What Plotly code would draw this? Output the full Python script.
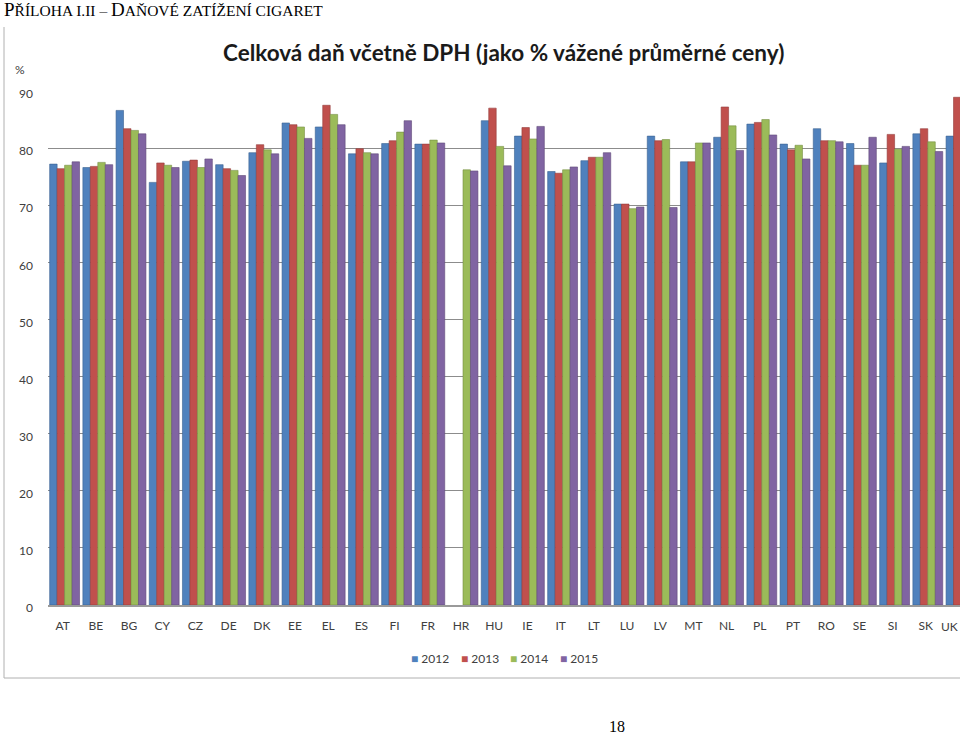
import plotly.graph_objects as go

countries = ["AT", "BE", "BG", "CY", "CZ", "DE", "DK", "EE", "EL", "ES", "FI", "FR", "HR", "HU",
             "IE", "IT", "LT", "LU", "LV", "MT", "NL", "PL", "PT", "RO", "SE", "SI", "SK", "UK"]
years = ["2012", "2013", "2014", "2015"]
v2012 = [77.2, 76.6, 86.6, 74.0, 77.7, 77.1, 79.2, 84.4, 83.7, 79.0, 80.8, 80.7, None, 84.8,
         82.1, 75.9, 77.8, 70.2, 82.1, 77.6, 81.9, 84.2, 80.7, 83.4, 80.8, 77.4, 82.5, 82.1]
v2013 = [76.4, 76.8, 83.4, 77.4, 77.9, 76.4, 80.6, 84.1, 87.5, 79.9, 81.3, 80.7, None, 87.0,
         83.6, 75.6, 78.4, 70.2, 81.3, 77.6, 87.2, 84.5, 79.7, 81.3, 77.0, 82.4, 83.4, 88.9]
v2014 = [77.0, 77.5, 83.1, 77.0, 76.6, 76.1, 79.7, 83.7, 85.9, 79.2, 82.8, 81.4, 76.2, 80.3,
         81.6, 76.2, 78.4, 69.4, 81.5, 80.9, 83.9, 85.0, 80.5, 81.3, 77.0, 79.8, 81.1, None]
v2015 = [77.6, 77.1, 82.5, 76.6, 78.1, 75.2, 79.0, 81.7, 84.1, 79.0, 84.8, 80.9, 76.0, 76.9,
         83.8, 76.7, 79.2, 69.7, 69.6, 80.9, 79.6, 82.3, 78.1, 81.1, 81.9, 80.3, 79.4, None]
series = [v2012, v2013, v2014, v2015]
colors = ["#4F81BD", "#C0504D", "#9BBB59", "#8064A2"]
edges = ["#3A6190", "#933C3A", "#768F43", "#5F4A79"]
y_ticks = [0, 10, 20, 30, 40, 50, 60, 70, 80, 90]

W, H = 960, 735
L, R, T, B = 48, 0, 91, 130
PW, PH = W - L - R, H - T - B


def px(xp):
    return (xp - L) / PW


def py(yp):
    return (H - B - yp) / PH


xs = list(range(len(countries)))
fig = go.Figure()
for name, vals, c, e in zip(years, series, colors, edges):
    fig.add_trace(go.Bar(x=xs, y=vals, name=name, marker=dict(color=c, line=dict(color=e, width=0.6))))

fig.update_layout(
    width=W, height=H,
    margin=dict(l=L, r=R, t=T, b=B, pad=0),
    paper_bgcolor="white", plot_bgcolor="white",
    barmode="group", bargap=0.1, bargroupgap=0.0,
    font=dict(family="Lato, Open Sans, sans-serif", color="#404040"),
    showlegend=False,
    xaxis=dict(range=[-0.5, -0.5 + PW / 33.2], tickmode="array",
               tickvals=[i - 0.06 for i in xs], ticktext=countries,
               showgrid=False, zeroline=False, showline=True, linecolor="#9a9a9a", linewidth=1.5,
               ticks="", ticklabelstandoff=9, tickfont=dict(size=12, color="#404040")),
    yaxis=dict(range=[0, 90], tickmode="array", tickvals=y_ticks,
               showgrid=True, gridcolor="#8c8c8c", gridwidth=1.2, zeroline=False,
               showline=False, ticks="", ticklabelstandoff=14, ticklabelshift=3,
               tickfont=dict(size=12, color="#404040")),
)

big, small = 19, 15.5


def sc(word):
    return f'<span style="font-size:{small}px">{word}</span>'


header = ("P" + sc("ŘÍLOHA I.II – ") + "D" + sc("AŇOVÉ ZATÍŽENÍ CIGARET"))

annotations = [
    dict(text=header, x=px(2), y=py(10), xref="paper", yref="paper",
         xanchor="left", yanchor="middle", showarrow=False,
         font=dict(family="Liberation Serif, Times New Roman, serif", size=big, color="black")),
    dict(text="<b>Celková daň včetně DPH (jako % vážené průměrné ceny)</b>", x=px(503), y=py(52),
         xref="paper", yref="paper", xanchor="center", yanchor="middle", showarrow=False,
         font=dict(size=22.5, color="#1a1a1a")),
    dict(text="%", x=px(20), y=py(70), xref="paper", yref="paper", xanchor="center", yanchor="middle",
         showarrow=False, font=dict(size=12, color="#404040")),
    dict(text="18", x=px(617), y=py(726), xref="paper", yref="paper", xanchor="center", yanchor="middle",
         showarrow=False, font=dict(family="Liberation Serif, Times New Roman, serif", size=16, color="black")),
    # last category label, kept inside the page edge
    dict(text=countries[-1], x=xs[-1] - 0.34, y=py(626), xref="x", yref="paper", xanchor="center",
         yanchor="middle", showarrow=False, font=dict(size=12, color="#404040")),
]
# custom compact legend built from the series names and colours
for j, (name, c) in enumerate(zip(years, colors)):
    annotations.append(dict(
        text=f'<span style="color:{c}">■</span> {name}', x=px(409 + 49.5 * j), y=py(658),
        xref="paper", yref="paper", xanchor="left", yanchor="middle", showarrow=False,
        font=dict(size=12, color="#404040")))
fig.update_layout(annotations=annotations)

fig.update_layout(shapes=[
    dict(type="line", xref="paper", yref="paper", x0=px(4), x1=px(4), y0=py(27), y1=py(678),
         line=dict(color="#b0b0b0", width=1)),
    dict(type="line", xref="paper", yref="paper", x0=px(4), x1=px(960), y0=py(678), y1=py(678),
         line=dict(color="#b0b0b0", width=1)),
])

fig.write_html("out.html")
